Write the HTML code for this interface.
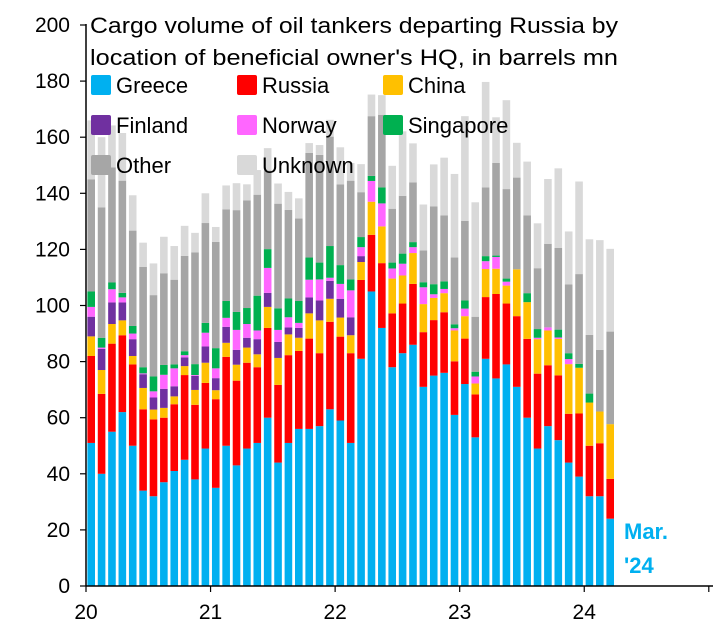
<!DOCTYPE html>
<html><head><meta charset="utf-8"><style>
html,body{margin:0;padding:0;background:#fff}
svg{display:block;font-family:"Liberation Sans",Arial,sans-serif}
</style></head><body>
<svg id="chart" width="723" height="640" viewBox="0 0 723 640" xmlns="http://www.w3.org/2000/svg">
<g id="bars"></g>
<g id="axes"></g>
<text x="90" y="33" font-size="22" textLength="528" lengthAdjust="spacingAndGlyphs">Cargo volume of oil tankers departing Russia by</text>
<text x="90" y="65" font-size="22" textLength="528" lengthAdjust="spacingAndGlyphs">location of beneficial owner's HQ, in barrels mn</text>
<g id="legend"></g>
<text x="624" y="539" font-size="22" font-weight="bold" fill="#00B0F0">Mar.</text>
<text x="624" y="573" font-size="22" font-weight="bold" fill="#00B0F0">'24</text>
</svg>
<script>
const seriesNames = ["Greece","Russia","China","Finland","Norway","Singapore","Other","Unknown"];
const seriesColors = ["#00B0F0","#FF0000","#FFC000","#7030A0","#FF66FF","#00B050","#A6A6A6","#D9D9D9"];
const greece = [51,40,55,62,50,34,32,37,41,45,38,49, 35,50,43,49,51,60,44,51,56,56,57,63, 59,51,81,105,92,78,83,86,71,75,76,61, 72,53,81,74,79,71,60,49,57,52,44,39, 32,32,24];
const russia = [31,28.5,31.4,27.4,29,29,27.4,23,23.8,30.2,26.6,23.4, 31.6,31.7,30.2,30.6,27,32,27.7,31.3,27.8,32.2,26,31.2, 29.9,32,28.1,20.2,23.1,19.2,17.7,21.7,19.5,19.8,21.6,19.1, 16.2,15.3,22,30.1,21.7,25.2,28.1,26.7,21.7,23.1,17.4,22.5, 18,18.9,14.2];
const china = [7,8.5,7,5.3,3,7.6,3.5,3.5,2.8,3.2,5.3,7.2, 3.2,5,5.7,5.4,4.6,7.5,9.6,7.4,4.7,9,11.7,8.2, 6.8,6.4,6.4,11.8,13.1,12.4,10,11,10,7.9,6.8,11, 8,3.9,10,9,6.4,16.7,13.1,12.3,12.4,13,17.7,16.3, 15.4,11.3,19.5];
const finland = [7,7.5,7.7,6.4,6,4.9,4.3,6.8,3.6,3.1,5,5.8, 4.3,5.7,5.3,3.5,5.4,5,5.7,2.5,3.5,5.7,7.1,6.4, 6.7,6.4,2.1,0,0,0,0,0,0,0,0,0, 0,0,0,0,0,0,0,0,0,0,0,0, 0,0,0];
const norway = [3.5,0.5,4.7,1.8,2,0.3,2.2,5,6.4,0.8,0.3,4.9, 3.5,3.2,7.1,4.9,3.1,8.9,4.3,3.6,1.8,6.3,7.5,1.1, 5.3,9.6,3.2,7.4,8.2,3.6,4.2,2.1,6,1.3,1.5,0.8, 2.7,2.5,2.8,4.2,1.4,0,0,0.5,1.1,0.5,1.8,0, 0,0,0];
const singapore = [5.5,3.5,2.4,1.6,2.7,2.2,5.3,3.5,1.4,1.4,3.9,3.5, 7.2,6,6.4,5.7,12.4,6.7,7.7,6.7,7.8,7.9,6,11.3, 6.7,3.9,3.6,1.8,5.7,2.1,3.6,1.8,1.8,3.6,2.7,1.4, 2.9,1.7,1.8,0.5,1.1,0,3.2,3.1,0,2.8,2.1,1.4, 3.2,0,0];
const other = [40,46.5,41,40,34,35.8,29,32.7,30.2,34,39.8,35.6, 37.9,32.7,36.3,38.4,36,28,37.3,31.6,29.4,37.3,38.4,39, 28.8,35.2,16,21.3,25.9,19.2,20.6,21.3,11.3,27.7,23.5,23.8, 28.4,19.6,24.5,33,31.9,32.7,27.7,21.7,29.8,29.1,24.5,32, 20.9,22,33];
const unknown = [21,25,15,17,12.6,8.6,11.3,13,12,10.7,7,10.6, 5.3,8.5,9.6,5.7,8.8,8,7.2,6.4,7.2,3.5,3.5,6, 13.2,6.3,10,7.7,7,15.3,23,13.9,16.4,15,20.6,29.8, 37.3,40.8,37.6,16.3,31.7,12.4,19.2,16,23.1,28.4,18.9,33, 34.1,39.1,29.5];
const yTicks = [0,20,40,60,80,100,120,140,160,180,200];
const xTickLabels = ["20","21","22","23","24"];

const NS = "http://www.w3.org/2000/svg";
const series = [greece,russia,china,finland,norway,singapore,other,unknown];
const X0 = 86, PITCH = 10.38, BW = 7.6, Y0 = 586, YS = 2.805;
function xScale(i){ return X0 + PITCH*i; }
function yScale(v){ return Y0 - v*YS; }
function mk(tag, attrs, parent){ const e=document.createElementNS(NS,tag); for(const k in attrs) e.setAttribute(k,attrs[k]); parent.appendChild(e); return e; }

const gb = document.getElementById('bars');
for (let i=0;i<greece.length;i++){
  let cum=0;
  for (let s=0;s<series.length;s++){
    const v=series[s][i]; if(!v) continue;
    const r = mk('rect',{x:(xScale(i)+1.4).toFixed(2), y:yScale(cum+v).toFixed(2), width:BW, height:(v*YS).toFixed(2), fill:seriesColors[s]}, gb);
    
    
    cum+=v;
  }
}
const ga = document.getElementById('axes');
let l = mk('line',{x1:86,y1:24,x2:86,y2:586,stroke:'#000','stroke-width':1.5},ga);


l = mk('line',{x1:86,y1:586,x2:713,y2:586,stroke:'#000','stroke-width':1.5},ga);


yTicks.forEach(t=>{
  const tk = mk('line',{x1:80,y1:yScale(t),x2:86,y2:yScale(t),stroke:'#000','stroke-width':1.2},ga);
  
  
  const tx = mk('text',{x:70,y:yScale(t)+7,'font-size':21,'text-anchor':'end'},ga);
  tx.textContent=t;
  
  
});
for (let k=0;k<=5;k++){
  const xx = xScale(12*k);
  const tk = mk('line',{x1:xx,y1:586,x2:xx,y2:592,stroke:'#000','stroke-width':1.2},ga);
  
  
  if (k<xTickLabels.length){
    const tx = mk('text',{x:xx,y:619,'font-size':21,'text-anchor':'middle'},ga);
    tx.textContent=xTickLabels[k];
    
    
  }
}
const gl = document.getElementById('legend');
for (let s=0;s<8;s++){
  const col=s%3, row=Math.floor(s/3);
  const lx = 91+col*146, ly = 75+row*40;
  const g = mk('g',{},gl);
  
  
  mk('rect',{x:lx,y:ly,width:20,height:20,rx:2,fill:seriesColors[s]},g);
  const t = mk('text',{x:lx+25,y:ly+18,'font-size':22},g);
  t.textContent = seriesNames[s];
}
</script>
</body></html>
